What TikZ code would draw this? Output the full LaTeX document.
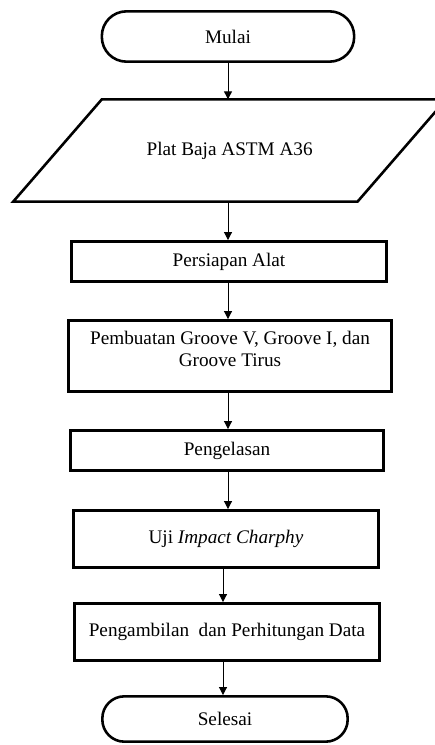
\documentclass[tikz,border=0pt]{standalone}
\usepackage{fontspec}
\setmainfont{Liberation Serif}
\usetikzlibrary{arrows.meta}
\begin{document}
\begin{tikzpicture}[every node/.style={font=\fontsize{16.4}{18.9}\selectfont},
  box/.style={draw,line width=2.2pt,minimum width=9.4cm,minimum height=1.21cm,align=center},
  term/.style={draw,line width=2.2pt,rounded corners=0.7cm,minimum width=7.4cm,minimum height=1.4cm},
  arr/.style={-{Triangle[width=0.24cm,length=0.24cm]},line width=0.85pt}]
\useasboundingbox (0,0) rectangle (13.02,-22.35);
\node[term,minimum width=7.57cm,minimum height=1.51cm,rounded corners=0.74cm] (mulai) at (6.84,-1.095) {Mulai};
\node[minimum width=10.33cm,minimum height=3.07cm,outer sep=0pt] (plat) at (6.89,-4.515) {Plat Baja ASTM A36};
\draw[line width=2.2pt,line join=miter] ([xshift=1.33cm]plat.north west) -- ([xshift=1.33cm]plat.north east)
  -- ([xshift=-1.33cm]plat.south east) -- ([xshift=-1.33cm]plat.south west) -- cycle;
\node[box,minimum width=9.46cm] (alat) at (6.87,-7.845) {Persiapan Alat};
\node[box,minimum width=9.70cm,minimum height=2.14cm,text depth=0.42cm] (groove) at (6.90,-10.68) {Pembuatan Groove V, Groove I, dan\\ Groove Tirus};
\node[box] (las) at (6.81,-13.515) {Pengelasan};
\node[box,minimum width=9.16cm,minimum height=1.72cm] (uji) at (6.78,-16.17) {Uji \textit{Impact Charphy}};
\node[box,minimum width=9.16cm,minimum height=1.72cm] (data) at (6.81,-18.96) {Pengambilan~ dan Perhitungan Data};
\node[term,minimum width=7.36cm,minimum height=1.36cm,rounded corners=0.66cm] (selesai) at (6.75,-21.57) {Selesai};
% alur
\draw[arr] (mulai.south) -- (mulai.south |- plat.north);
\draw[arr] ([xshift=-0.05cm]plat.south) -- ([xshift=-0.05cm]plat.south |- alat.north);
\draw[arr] ([xshift=-0.03cm]alat.south) -- ([xshift=-0.03cm]alat.south |- groove.north);
\draw[arr] ([xshift=-0.06cm]groove.south) -- ([xshift=-0.06cm]groove.south |- las.north);
\draw[arr] ([xshift=0.03cm]las.south) -- ([xshift=0.03cm]las.south |- uji.north);
\draw[arr] ([xshift=-0.09cm]uji.south) -- ([xshift=-0.09cm]uji.south |- data.north);
\draw[arr] ([xshift=-0.12cm]data.south) -- ([xshift=-0.12cm]data.south |- selesai.north);
\end{tikzpicture}
\end{document}
